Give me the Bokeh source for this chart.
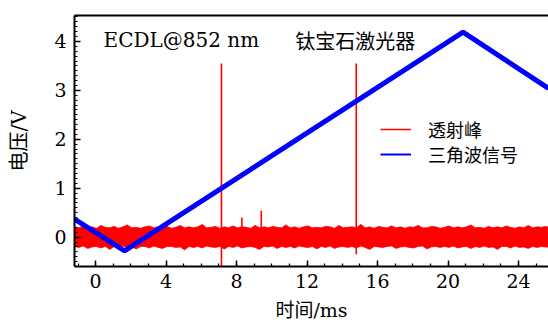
import numpy as np
from bokeh.plotting import figure
from bokeh.models import (Range1d, LinearAxis, FixedTicker, Legend, LegendItem,
                          Label, SingleIntervalTicker)
from bokeh.embed import file_html
from bokeh.resources import INLINE

# ---- data ----
x_ticks = [0, 4, 8, 12, 16, 20, 24]
y_ticks = [0, 1, 2, 3, 4]

# triangle-wave signal (ms, V)
tri_t = [-1.2, 1.64, 20.85, 25.7]
tri_v = [0.37, -0.28, 4.19, 3.04]

# noise band of the transmission signal, sampled every 0.25 ms from -1.2 ms
noise_upper = [0.21, 0.19, 0.23, 0.19, 0.21, 0.18, 0.24, 0.20, 0.19, 0.22,
               0.18, 0.21, 0.25, 0.19, 0.20, 0.18, 0.21, 0.23, 0.19, 0.21,
               0.19, 0.22, 0.18, 0.20, 0.24, 0.19, 0.21, 0.19, 0.21, 0.26,
               0.19, 0.20, 0.22, 0.18, 0.21, 0.19, 0.23, 0.19, 0.21, 0.20,
               0.18, 0.24, 0.19, 0.21, 0.19, 0.22, 0.20, 0.19, 0.25, 0.19,
               0.21, 0.18, 0.21, 0.23, 0.19, 0.20, 0.19, 0.22, 0.21, 0.18,
               0.24, 0.19, 0.20, 0.21, 0.19, 0.26, 0.19, 0.21, 0.18, 0.22,
               0.20, 0.19, 0.23, 0.19, 0.21, 0.18, 0.21, 0.20, 0.24, 0.19,
               0.19, 0.22, 0.21, 0.18, 0.20, 0.23, 0.19, 0.21, 0.19, 0.21,
               0.25, 0.19, 0.20, 0.18, 0.22, 0.19, 0.21, 0.19, 0.23, 0.20,
               0.18, 0.21, 0.19, 0.24, 0.19, 0.21, 0.20, 0.22, 0.19]
noise_lower = [-0.19, -0.21, -0.18, -0.23, -0.20, -0.19, -0.22, -0.19, -0.25, -0.19,
               -0.21, -0.18, -0.21, -0.20, -0.24, -0.19, -0.19, -0.22, -0.18, -0.21,
               -0.23, -0.19, -0.19, -0.21, -0.20, -0.26, -0.19, -0.21, -0.19, -0.22,
               -0.18, -0.20, -0.21, -0.19, -0.24, -0.19, -0.21, -0.18, -0.22, -0.20,
               -0.19, -0.21, -0.25, -0.19, -0.20, -0.18, -0.23, -0.19, -0.21, -0.19,
               -0.22, -0.18, -0.20, -0.21, -0.19, -0.24, -0.19, -0.21, -0.18, -0.23,
               -0.20, -0.19, -0.21, -0.19, -0.22, -0.18, -0.21, -0.25, -0.19, -0.20,
               -0.21, -0.19, -0.18, -0.23, -0.20, -0.19, -0.21, -0.22, -0.19, -0.18,
               -0.24, -0.20, -0.19, -0.21, -0.19, -0.21, -0.18, -0.22, -0.20, -0.19,
               -0.23, -0.19, -0.21, -0.18, -0.21, -0.20, -0.25, -0.19, -0.19, -0.22,
               -0.18, -0.21, -0.20, -0.23, -0.19, -0.21, -0.19, -0.20, -0.21]
n = min(len(noise_upper), len(noise_lower))
noise_upper = noise_upper[:n]
noise_lower = noise_lower[:n]
noise_t = np.round(-1.2 + 0.25 * np.arange(n), 2)

# transmission peaks (ms, top V, bottom V)
peak_t = [7.14, 14.79]
peak_top = [3.55, 3.55]
peak_bottom = [-0.62, -0.35]

# small spikes on the noise
spike_t = [8.3, 9.4]
spike_top = [0.40, 0.54]

RED = "#ff0000"
BLUE = "#0000ff"
SERIF = "DejaVu Serif"
CJK = "Noto Sans CJK SC"
MIXED = "'DejaVu Serif', 'Noto Sans CJK SC'"

p = figure(width=548, height=324, output_backend="svg", toolbar_location=None,
           x_range=Range1d(-1.2, 25.7), y_range=Range1d(-0.6, 4.53),
           min_border_left=74, min_border_right=0, min_border_top=15,
           min_border_bottom=58)
p.outline_line_color = None
p.grid.visible = False
p.background_fill_color = "white"
p.border_fill_color = "white"

xa = p.below[0]
ya = p.left[0]

# top spine
top = LinearAxis(ticker=FixedTicker(ticks=[]), major_label_text_font_size="0px",
                 axis_line_width=2, major_tick_line_color=None,
                 minor_tick_line_color=None, major_label_standoff=0,
                 major_tick_out=0, major_tick_in=0)
p.add_layout(top, "above")

xa.ticker = SingleIntervalTicker(interval=4, num_minor_ticks=4)
ya.ticker = SingleIntervalTicker(interval=1, num_minor_ticks=10)
for ax in (xa, ya):
    ax.axis_line_width = 2
    ax.major_tick_in = 6
    ax.major_tick_out = 0
    ax.minor_tick_in = 3
    ax.minor_tick_out = 0
    ax.major_tick_line_width = 1.5
    ax.minor_tick_line_width = 1.2
    ax.major_label_text_font = SERIF
    ax.major_label_text_font_size = "19px"
    ax.major_label_text_color = "black"
    ax.major_label_standoff = 8
    ax.axis_label_text_font = MIXED
    ax.axis_label_text_font_size = "20px"
    ax.axis_label_text_font_style = "normal"
    ax.axis_label_text_color = "black"
xa.axis_label = "时间/ms"
ya.axis_label = "电压/V"
xa.major_label_standoff = 7
xa.axis_label_text_font_size = "19px"
xa.axis_label_standoff = 8
ya.axis_label_standoff = 20

# noise band
p.varea(x=noise_t, y1=noise_lower, y2=noise_upper, fill_color=RED)
p.line(x=noise_t, y=noise_upper, line_color=RED, line_width=0.8)
p.line(x=noise_t, y=noise_lower, line_color=RED, line_width=0.8)
# peaks & spikes
p.segment(x0=peak_t, y0=peak_bottom, x1=peak_t, y1=peak_top,
          line_color=RED, line_width=1.6)
p.segment(x0=spike_t, y0=[0] * len(spike_t), x1=spike_t, y1=spike_top,
          line_color=RED, line_width=1.6)
# triangle wave
p.line(x=tri_t, y=tri_v, line_color=BLUE, line_width=5)

# legend proxies (outside the visible ranges)
r_red = p.line(x=[-50, -49], y=[-50, -50], line_color=RED, line_width=1.5)
r_blue = p.line(x=[-50, -49], y=[-50, -50], line_color=BLUE, line_width=2)
legend_kw = dict(orientation="vertical", border_line_color=None,
                 background_fill_alpha=0, padding=0, margin=0, spacing=0,
                 glyph_width=31, glyph_height=20, label_height=20,
                 label_standoff=17, label_text_font=CJK,
                 label_text_font_size="18px", label_text_color="black")
leg1 = Legend(items=[LegendItem(label="透射峰", renderers=[r_red])],
              location=(306, 124), **legend_kw)
leg2 = Legend(items=[LegendItem(label="三角波信号", renderers=[r_blue])],
              location=(306, 99), **legend_kw)
p.add_layout(leg1, "center")
p.add_layout(leg2, "center")

p.add_layout(Label(x=0.45, y=4.02, text="ECDL@852 nm", text_font=SERIF,
                   text_font_size="20px", text_baseline="middle",
                   text_color="black"))
p.add_layout(Label(x=11.33, y=4.02, text="钛宝石激光器", text_font=CJK,
                   text_font_size="20px", text_baseline="middle",
                   text_color="black"))

open("out.html", "w").write(file_html(p, INLINE))
